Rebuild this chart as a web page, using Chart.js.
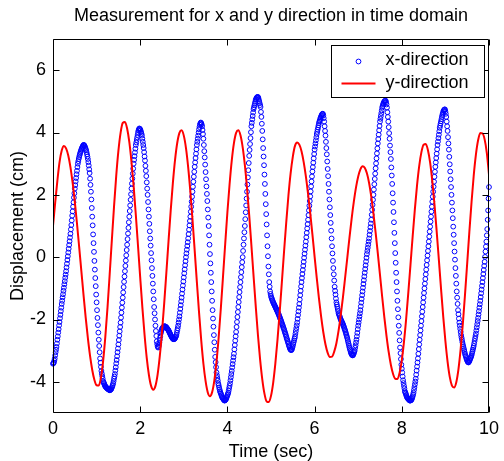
<!DOCTYPE html>
<html>
<head>
<meta charset="utf-8">
<script src="https://cdn.jsdelivr.net/npm/chart.js@4/dist/chart.umd.min.js"></script>
<style>
html,body{margin:0;padding:0;background:#fff;}
#wrap{width:504px;height:461px;}
</style>
</head>
<body>
<div id="wrap"><canvas id="c" width="504" height="461"></canvas></div>
<script>
const chartTitle = 'Measurement for x and y direction in time domain';
const xAxisTitle = 'Time (sec)';
const yAxisTitle = 'Displacement (cm)';
const seriesNames = ['x-direction', 'y-direction'];
const xRange = [0, 10];
const yRange = [-5, 7];
const xTicks = [0, 2, 4, 6, 8, 10];
const yTicks = [-4, -2, 0, 2, 4, 6];

// x-direction: sampled every 0.01 s from t = 0 to t = 10
const xSampleStep = 0.01;
const xDirection = [
-3.42,-3.40,-3.38,-3.32,-3.25,-3.15,-3.05,-2.97,-2.88,-2.77,
-2.65,-2.54,-2.42,-2.31,-2.19,-2.08,-1.96,-1.85,-1.73,-1.62,
-1.50,-1.40,-1.29,-1.19,-1.08,-0.98,-0.87,-0.77,-0.66,-0.56,
-0.45,-0.33,-0.21,-0.09,0.03,0.15,0.27,0.39,0.51,0.63,
0.75,0.89,1.03,1.18,1.33,1.47,1.62,1.76,1.91,2.05,
2.20,2.31,2.43,2.54,2.66,2.77,2.89,3.00,3.08,3.15,
3.21,3.27,3.32,3.37,3.41,3.45,3.49,3.52,3.55,3.58,
3.60,3.60,3.58,3.55,3.51,3.47,3.43,3.37,3.30,3.23,
3.15,3.05,2.94,2.82,2.70,2.52,2.32,2.10,1.85,1.58,
1.30,1.02,0.73,0.45,0.17,-0.12,-0.40,-0.67,-0.93,-1.20,
-1.45,-1.70,-1.95,-2.18,-2.42,-2.65,-2.85,-3.05,-3.25,-3.39,
-3.52,-3.65,-3.74,-3.82,-3.90,-3.98,-4.01,-4.05,-4.08,-4.12,
-4.15,-4.16,-4.18,-4.19,-4.21,-4.22,-4.23,-4.24,-4.25,-4.26,
-4.27,-4.27,-4.25,-4.24,-4.22,-4.18,-4.14,-4.10,-4.05,-3.98,
-3.90,-3.83,-3.75,-3.64,-3.53,-3.41,-3.30,-3.18,-3.05,-2.93,
-2.80,-2.66,-2.52,-2.38,-2.24,-2.10,-1.94,-1.78,-1.62,-1.46,
-1.30,-1.13,-0.96,-0.79,-0.62,-0.45,-0.28,-0.11,0.06,0.23,
0.40,0.58,0.76,0.94,1.12,1.30,1.48,1.66,1.84,2.02,
2.20,2.36,2.52,2.68,2.84,3.00,3.12,3.24,3.36,3.48,
3.60,3.68,3.76,3.84,3.92,4.00,4.06,4.10,4.13,4.12,
4.10,4.06,4.01,3.96,3.90,3.80,3.70,3.60,3.50,3.37,
3.23,3.10,2.93,2.77,2.60,2.40,2.20,2.00,1.77,1.53,
1.30,1.07,0.83,0.60,0.37,0.13,-0.10,-0.35,-0.60,-0.85,
-1.10,-1.35,-1.60,-1.80,-2.00,-2.20,-2.37,-2.53,-2.70,-2.79,
-2.86,-2.90,-2.88,-2.82,-2.75,-2.65,-2.55,-2.45,-2.39,-2.34,
-2.30,-2.28,-2.26,-2.24,-2.23,-2.22,-2.22,-2.22,-2.23,-2.24,
-2.25,-2.27,-2.29,-2.31,-2.33,-2.35,-2.38,-2.41,-2.44,-2.47,
-2.50,-2.53,-2.55,-2.58,-2.60,-2.62,-2.63,-2.63,-2.63,-2.62,
-2.60,-2.57,-2.54,-2.50,-2.43,-2.35,-2.28,-2.20,-2.10,-2.00,
-1.90,-1.78,-1.66,-1.54,-1.42,-1.30,-1.17,-1.04,-0.91,-0.78,
-0.65,-0.52,-0.39,-0.26,-0.13,0.00,0.12,0.24,0.36,0.48,
0.60,0.74,0.88,1.02,1.16,1.30,1.46,1.62,1.78,1.94,
2.10,2.26,2.42,2.58,2.74,2.90,3.04,3.18,3.32,3.46,
3.60,3.70,3.80,3.90,4.00,4.10,4.18,4.25,4.29,4.32,
4.30,4.26,4.20,4.08,3.95,3.80,3.60,3.40,3.20,2.97,
2.73,2.50,2.27,2.03,1.80,1.53,1.27,1.00,0.70,0.40,
0.10,-0.20,-0.50,-0.80,-1.10,-1.40,-1.70,-1.97,-2.23,-2.50,
-2.73,-2.97,-3.20,-3.37,-3.53,-3.70,-3.79,-3.88,-3.96,-4.05,
-4.11,-4.18,-4.24,-4.30,-4.34,-4.38,-4.42,-4.46,-4.50,-4.52,
-4.54,-4.56,-4.58,-4.60,-4.60,-4.59,-4.57,-4.55,-4.51,-4.47,
-4.43,-4.39,-4.35,-4.28,-4.20,-4.13,-4.05,-3.95,-3.85,-3.75,
-3.65,-3.54,-3.43,-3.32,-3.21,-3.10,-2.96,-2.82,-2.68,-2.54,
-2.40,-2.24,-2.08,-1.92,-1.76,-1.60,-1.44,-1.28,-1.12,-0.96,
-0.80,-0.64,-0.48,-0.32,-0.16,0.00,0.20,0.40,0.60,0.80,
1.00,1.22,1.44,1.66,1.88,2.10,2.33,2.56,2.79,3.02,
3.25,3.44,3.63,3.82,4.01,4.20,4.31,4.42,4.53,4.64,
4.75,4.81,4.87,4.93,4.99,5.05,5.08,5.11,5.13,5.14,
5.14,5.11,5.06,5.00,4.94,4.88,4.82,4.66,4.50,4.28,
4.05,3.78,3.50,3.23,2.95,2.65,2.35,2.03,1.70,1.38,
1.05,0.70,0.35,0.03,-0.30,-0.55,-0.80,-0.95,-1.10,-1.18,
-1.25,-1.30,-1.34,-1.38,-1.41,-1.45,-1.48,-1.51,-1.54,-1.57,
-1.60,-1.63,-1.66,-1.69,-1.72,-1.75,-1.78,-1.82,-1.85,-1.89,
-1.92,-1.96,-2.00,-2.04,-2.08,-2.12,-2.16,-2.20,-2.24,-2.28,
-2.32,-2.37,-2.41,-2.46,-2.50,-2.55,-2.60,-2.64,-2.69,-2.73,
-2.78,-2.83,-2.87,-2.91,-2.95,-2.97,-2.98,-2.98,-2.95,-2.90,
-2.85,-2.79,-2.73,-2.67,-2.61,-2.55,-2.46,-2.37,-2.28,-2.19,
-2.10,-1.98,-1.86,-1.74,-1.62,-1.50,-1.36,-1.22,-1.08,-0.94,
-0.80,-0.67,-0.54,-0.41,-0.28,-0.15,-0.02,0.11,0.24,0.37,
0.50,0.64,0.78,0.92,1.06,1.20,1.35,1.50,1.65,1.80,
1.95,2.11,2.27,2.43,2.59,2.75,2.89,3.03,3.17,3.31,
3.45,3.55,3.65,3.75,3.85,3.95,4.02,4.09,4.16,4.23,
4.30,4.35,4.39,4.44,4.48,4.52,4.55,4.58,4.60,4.60,
4.55,4.46,4.35,4.20,4.05,3.90,3.70,3.50,3.30,3.07,
2.83,2.60,2.35,2.10,1.85,1.60,1.35,1.10,0.85,0.60,
0.35,0.12,-0.12,-0.35,-0.55,-0.75,-0.95,-1.08,-1.20,-1.33,
-1.45,-1.52,-1.59,-1.66,-1.73,-1.80,-1.84,-1.88,-1.92,-1.96,
-2.00,-2.03,-2.06,-2.09,-2.12,-2.15,-2.19,-2.23,-2.27,-2.31,
-2.35,-2.40,-2.45,-2.50,-2.55,-2.60,-2.66,-2.72,-2.78,-2.84,
-2.90,-2.95,-3.00,-3.05,-3.09,-3.12,-3.14,-3.15,-3.15,-3.12,
-3.08,-3.04,-3.00,-2.91,-2.83,-2.74,-2.65,-2.54,-2.43,-2.31,
-2.20,-2.10,-2.00,-1.90,-1.80,-1.70,-1.58,-1.46,-1.34,-1.22,
-1.10,-0.98,-0.86,-0.74,-0.62,-0.50,-0.38,-0.26,-0.14,-0.02,
0.10,0.20,0.30,0.40,0.50,0.60,0.72,0.84,0.96,1.08,
1.20,1.36,1.52,1.68,1.84,2.00,2.17,2.34,2.51,2.68,
2.85,3.01,3.17,3.33,3.49,3.65,3.79,3.93,4.07,4.21,
4.35,4.44,4.53,4.62,4.71,4.80,4.85,4.90,4.94,4.97,
5.00,5.01,5.02,5.02,4.97,4.90,4.80,4.65,4.50,4.35,
4.17,3.98,3.80,3.58,3.37,3.15,2.88,2.62,2.35,2.05,
1.75,1.45,1.12,0.78,0.45,0.13,-0.18,-0.50,-0.80,-1.10,
-1.40,-1.67,-1.93,-2.20,-2.43,-2.67,-2.90,-3.08,-3.27,-3.45,
-3.58,-3.70,-3.83,-3.95,-4.04,-4.13,-4.21,-4.30,-4.34,-4.38,
-4.42,-4.46,-4.50,-4.52,-4.54,-4.55,-4.57,-4.58,-4.60,-4.60,
-4.60,-4.59,-4.58,-4.55,-4.51,-4.46,-4.41,-4.35,-4.26,-4.17,
-4.08,-3.99,-3.90,-3.77,-3.64,-3.51,-3.38,-3.25,-3.10,-2.95,
-2.80,-2.65,-2.50,-2.35,-2.20,-2.05,-1.90,-1.75,-1.60,-1.45,
-1.30,-1.15,-1.00,-0.85,-0.70,-0.55,-0.40,-0.25,-0.10,0.05,
0.20,0.35,0.50,0.66,0.82,0.98,1.14,1.30,1.46,1.62,
1.78,1.94,2.10,2.26,2.42,2.58,2.74,2.90,3.04,3.18,
3.32,3.46,3.60,3.71,3.82,3.93,4.04,4.15,4.22,4.29,
4.36,4.43,4.50,4.56,4.61,4.66,4.70,4.72,4.74,4.74,
4.68,4.60,4.50,4.35,4.20,4.05,3.85,3.65,3.45,3.22,
2.98,2.75,2.50,2.25,2.00,1.75,1.50,1.25,0.98,0.72,
0.45,0.18,-0.08,-0.35,-0.60,-0.85,-1.10,-1.30,-1.50,-1.70,
-1.83,-1.97,-2.10,-2.20,-2.30,-2.40,-2.50,-2.58,-2.65,-2.73,
-2.80,-2.86,-2.92,-2.98,-3.04,-3.10,-3.15,-3.19,-3.24,-3.28,
-3.32,-3.35,-3.37,-3.38,-3.36,-3.33,-3.30,-3.26,-3.23,-3.19,
-3.15,-3.09,-3.03,-2.97,-2.91,-2.85,-2.77,-2.69,-2.61,-2.53,
-2.45,-2.35,-2.25,-2.15,-2.05,-1.95,-1.84,-1.73,-1.62,-1.51,
-1.40,-1.28,-1.16,-1.04,-0.92,-0.80,-0.67,-0.54,-0.41,-0.28,
-0.15,0.01,0.18,0.34,0.50,0.70,0.90,1.20,1.50,1.88,
2.25
];

// y-direction: sampled every 0.05 s from t = 0 to t = 10
const ySampleStep = 0.05;
const yDirection = [
1.00,1.75,2.45,3.05,3.42,3.57,3.49,3.26,2.89,2.39,
1.78,1.08,0.33,-0.44,-1.21,-1.94,-2.60,-3.17,-3.62,-3.94,
-4.11,-4.12,-3.86,-3.33,-2.56,-1.62,-0.55,0.55,1.63,2.61,
3.41,3.99,4.31,4.34,4.13,3.70,3.06,2.27,1.35,0.36,
-0.65,-1.62,-2.49,-3.23,-3.78,-4.13,-4.25,-4.13,-3.76,-3.17,
-2.40,-1.49,-0.50,0.52,1.50,2.39,3.13,3.67,3.99,4.07,
3.90,3.50,2.89,2.11,1.20,0.21,-0.80,-1.78,-2.67,-3.42,
-3.98,-4.34,-4.46,-4.33,-3.96,-3.36,-2.57,-1.63,-0.61,0.43,
1.44,2.34,3.10,3.66,3.99,4.07,3.91,3.53,2.96,2.22,
1.35,0.39,-0.60,-1.57,-2.49,-3.28,-3.92,-4.38,-4.63,-4.65,
-4.45,-4.03,-3.41,-2.64,-1.75,-0.79,0.19,1.12,1.98,2.69,
3.22,3.57,3.68,3.61,3.40,3.05,2.59,2.03,1.41,0.73,
0.02,-0.67,-1.32,-1.91,-2.41,-2.80,-3.07,-3.20,-3.19,-3.03,
-2.76,-2.36,-1.86,-1.29,-0.66,-0.02,0.63,1.24,1.78,2.24,
2.59,2.82,2.92,2.87,2.69,2.38,1.94,1.40,0.79,0.12,
-0.57,-1.27,-1.93,-2.53,-3.05,-3.46,-3.75,-3.90,-3.91,-3.71,
-3.31,-2.72,-1.98,-1.13,-0.23,0.68,1.54,2.31,2.93,3.37,
3.61,3.63,3.43,3.03,2.43,1.69,0.83,-0.08,-1.01,-1.90,
-2.69,-3.35,-3.84,-4.12,-4.18,-4.01,-3.59,-2.95,-2.14,-1.20,
-0.20,0.82,1.77,2.62,3.29,3.75,3.98,3.97,3.78,3.35,
2.65
];

const toPoints = (vals, step) => vals.map((v, i) => ({ x: Math.round(i * step * 1000) / 1000, y: v }));

const FONT = "'Liberation Sans', Arial, Helvetica, sans-serif";
Chart.defaults.font.family = FONT;
Chart.defaults.font.size = 18;
Chart.defaults.color = '#000';

const framePlugin = {
  id: 'matlabFrame',
  afterDatasetsDraw(chart) {
    const { ctx, chartArea: a, scales } = chart;
    const xs = scales.x, ys = scales.y;
    const L = Math.round(a.left) + 0.5, R = Math.round(a.right) - 0.5;
    const T = Math.round(a.top) + 0.5, B = Math.round(a.bottom) - 0.5;
    const len = 6;
    ctx.save();
    ctx.strokeStyle = '#000';
    ctx.lineWidth = 1;
    ctx.beginPath();
    ctx.rect(L, T, R - L, B - T);
    xTicks.forEach(v => {
      const px = Math.round(xs.getPixelForValue(v)) + 0.5;
      ctx.moveTo(px, B); ctx.lineTo(px, B - len);
      ctx.moveTo(px, T); ctx.lineTo(px, T + len);
    });
    yTicks.forEach(v => {
      const py = Math.round(ys.getPixelForValue(v)) + 0.5;
      ctx.moveTo(L, py); ctx.lineTo(L + len, py);
      ctx.moveTo(R, py); ctx.lineTo(R - len, py);
    });
    ctx.stroke();

    // legend box (inside the plot, top right)
    const ds = chart.data.datasets;
    const dsX = ds.find(d => d.label === seriesNames[0]);
    const dsY = ds.find(d => d.label === seriesNames[1]);
    const bw = 153, bh = 52;
    const bx = Math.round(a.right) - 5 - bw + 0.5, by = Math.round(a.top) + 6 + 0.5;
    ctx.fillStyle = '#fff';
    ctx.fillRect(bx, by, bw, bh);
    ctx.strokeRect(bx, by, bw, bh);
    ctx.font = '18px ' + FONT;
    ctx.textBaseline = 'alphabetic';
    ctx.textAlign = 'left';
    // entry 1: circle marker
    ctx.beginPath();
    ctx.strokeStyle = dsX.borderColor;
    ctx.lineWidth = 1;
    ctx.arc(bx + 27, by + 16, 2.4, 0, Math.PI * 2);
    ctx.stroke();
    ctx.fillStyle = '#000';
    ctx.fillText(dsX.label, bx + 54, by + 19);
    // entry 2: line
    ctx.beginPath();
    ctx.strokeStyle = dsY.borderColor;
    ctx.lineWidth = 2;
    ctx.moveTo(bx + 10, by + 38);
    ctx.lineTo(bx + 44, by + 38);
    ctx.stroke();
    ctx.fillText(dsY.label, bx + 54, by + 42);
    ctx.restore();
  }
};

new Chart(document.getElementById('c'), {
  type: 'scatter',
  data: {
    datasets: [
      {
        label: seriesNames[1],
        data: toPoints(yDirection, ySampleStep),
        showLine: true,
        borderColor: '#ff0000',
        backgroundColor: '#ff0000',
        borderWidth: 2,
        pointRadius: 0,
        pointHoverRadius: 0,
        cubicInterpolationMode: 'monotone',
        order: 0
      },
      {
        label: seriesNames[0],
        data: toPoints(xDirection, xSampleStep),
        showLine: false,
        borderColor: '#0000ff',
        backgroundColor: 'rgba(0,0,0,0)',
        pointStyle: 'circle',
        pointRadius: 2.4,
        pointBorderWidth: 1,
        pointHoverRadius: 2.4,
        clip: false,
        order: 1
      }
    ]
  },
  options: {
    responsive: false,
    animation: false,
    devicePixelRatio: 1,
    events: [],
    layout: { padding: { top: 0, right: 10, bottom: 0, left: 0 } },
    plugins: {
      legend: { display: false },
      tooltip: { enabled: false },
      title: {
        display: true,
        text: chartTitle,
        fullSize: false,
        color: '#000',
        font: { size: 18, weight: 'normal', lineHeight: '22px' },
        padding: { top: 5, bottom: 12 }
      }
    },
    scales: {
      x: {
        type: 'linear',
        min: xRange[0],
        max: xRange[1],
        afterBuildTicks: s => { s.ticks = xTicks.map(v => ({ value: v })); },
        afterFit: s => { s.height = 48; },
        grid: { display: false, drawTicks: false },
        border: { display: false },
        ticks: { padding: 5, maxRotation: 0, color: '#000', font: { size: 18 } },
        title: { display: true, text: xAxisTitle, color: '#000', font: { size: 18, lineHeight: '18px' }, padding: 0 }
      },
      y: {
        type: 'linear',
        min: yRange[0],
        max: yRange[1],
        afterBuildTicks: s => { s.ticks = yTicks.map(v => ({ value: v })); },
        afterFit: s => { s.width = 53; },
        grid: { display: false, drawTicks: false },
        border: { display: false },
        ticks: { padding: 7, color: '#000', font: { size: 18 } },
        title: { display: true, text: yAxisTitle, color: '#000', font: { size: 18, lineHeight: '22px' }, padding: { top: 7, bottom: 0 } }
      }
    }
  },
  plugins: [framePlugin]
});
</script>
</body>
</html>
